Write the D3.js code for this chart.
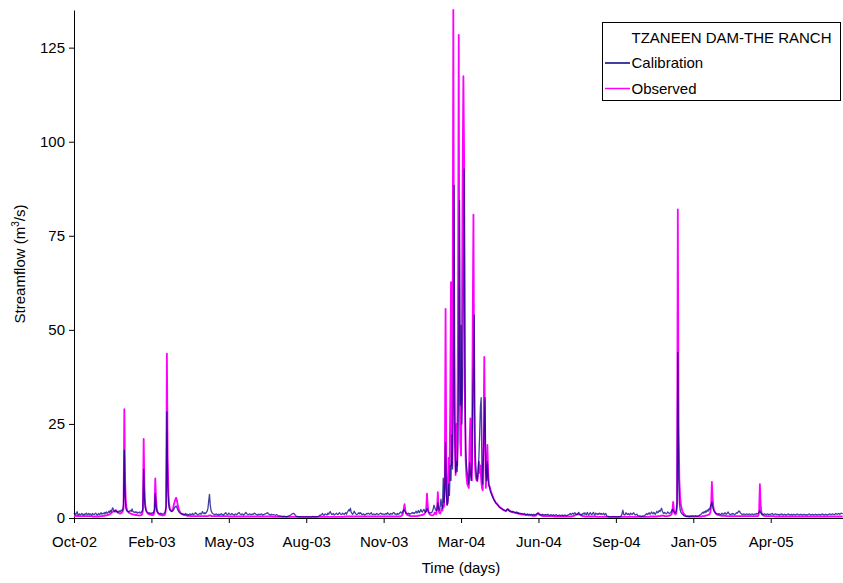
<!DOCTYPE html>
<html><head><meta charset="utf-8">
<script src="https://cdn.jsdelivr.net/npm/d3@7"></script>
<style>body{margin:0;background:#fff} svg text{font-family:Arial,"Liberation Sans",sans-serif}</style>
</head><body><svg id="c" width="843" height="583"></svg>
<script>
const startDate = "2002-10-25";
const tickStepDays = 100;
const tickLabels = ["Oct-02","Feb-03","May-03","Aug-03","Nov-03","Mar-04","Jun-04","Sep-04","Jan-05","Apr-05"];
const yTicks = [0,25,50,75,100,125];
const chartTitle = "TZANEEN DAM-THE RANCH";
const seriesNames = ["Calibration","Observed"];
const seriesColors = ["#000080","#FF00FF"];

// daily streamflow, m3/s, from startDate
const calibration = [
1.0,1.3,0.9,1.1,1.7,1.0,0.8,1.1,0.9,1.0,
1.2,0.9,1.0,0.8,1.1,1.0,1.3,0.9,1.0,1.2,
0.9,1.1,1.0,0.8,1.2,1.0,0.9,1.1,1.3,1.0,
0.8,1.0,1.2,0.9,1.1,1.4,1.0,1.2,1.3,1.1,
1.5,1.2,1.6,1.3,1.4,1.8,1.5,2.0,1.6,2.2,
2.7,2.2,1.8,1.6,2.0,1.7,1.5,1.8,1.6,1.9,
1.7,2.1,1.9,2.4,3.5,18.0,6.0,2.6,2.0,1.8,
1.7,1.6,1.9,2.0,1.8,2.4,1.8,1.6,1.5,1.7,
1.4,1.6,1.3,1.5,1.4,1.6,1.3,1.5,1.8,2.5,
12.9,5.0,2.8,2.1,1.7,1.5,1.3,1.4,1.2,1.3,
1.2,1.4,1.3,1.6,2.2,6.5,3.0,1.8,1.5,1.3,
1.2,1.1,1.3,1.2,1.0,1.1,1.2,1.4,1.8,3.0,
28.2,9.0,4.0,2.6,2.1,1.9,1.7,1.8,2.0,2.3,
2.8,3.0,3.2,2.8,2.2,1.8,1.5,1.3,1.2,1.1,
1.0,1.1,0.9,1.0,1.2,0.9,1.0,0.8,0.9,1.0,
1.1,0.9,1.0,1.2,0.9,1.0,1.1,1.4,1.2,1.0,
0.9,1.0,1.1,1.3,1.0,1.2,1.7,1.3,1.1,1.4,
1.2,1.5,1.8,2.5,4.5,6.3,3.5,2.0,1.5,1.2,
1.1,1.0,0.9,1.0,1.1,0.9,0.8,1.0,0.9,1.0,
1.0,1.1,0.9,0.8,1.0,1.2,1.4,1.1,0.9,1.0,
1.3,1.1,0.9,1.0,1.2,1.0,0.9,0.8,1.0,1.1,
0.9,1.0,1.3,1.5,1.2,1.0,0.9,1.1,1.0,0.8,
1.0,1.2,1.5,1.2,1.0,0.9,1.0,1.1,0.9,1.0,
0.9,1.1,1.0,1.3,1.2,1.0,0.9,0.8,1.0,0.9,
1.0,0.9,1.1,1.0,0.8,0.9,1.0,1.1,1.2,1.3,
1.4,1.1,1.0,0.9,0.8,1.0,0.9,0.8,0.9,0.8,
0.7,0.8,0.9,0.7,0.6,0.5,0.6,0.5,0.5,0.4,
0.4,0.4,0.5,0.4,0.3,0.4,0.4,0.5,0.6,0.7,
0.8,1.0,1.1,1.2,1.2,1.0,0.7,0.5,0.4,0.4,
0.3,0.3,0.4,0.3,0.3,0.3,0.3,0.3,0.3,0.3,
0.3,0.3,0.3,0.3,0.3,0.3,0.3,0.3,0.4,0.4,
0.3,0.3,0.4,0.3,0.3,0.4,0.5,0.6,0.8,0.7,
0.9,1.2,0.8,0.7,1.0,1.1,0.9,0.8,1.3,1.0,
1.4,1.7,1.2,0.9,1.0,1.2,0.8,0.9,1.1,1.3,
1.0,0.9,1.2,1.4,1.1,0.9,1.0,1.3,1.1,0.9,
1.2,1.4,1.0,1.5,1.8,2.2,1.9,2.6,1.6,1.2,
1.0,1.3,1.8,1.4,1.1,0.9,1.0,1.2,1.4,1.1,
1.4,1.2,0.9,1.0,1.1,0.8,0.9,1.0,1.2,1.1,
1.3,1.1,1.0,1.2,1.4,1.0,0.9,1.1,1.0,0.9,
1.0,1.2,1.1,0.9,1.0,1.1,1.3,1.2,1.0,1.1,
1.0,0.9,1.1,1.2,1.0,1.4,1.1,1.0,0.9,1.2,
1.1,1.0,1.3,1.5,1.2,1.0,1.1,0.9,1.2,1.0,
1.1,1.4,1.6,1.3,1.5,1.8,2.2,2.0,1.6,1.3,
1.2,1.1,1.3,1.0,1.2,1.1,1.3,1.5,1.2,1.4,
1.2,1.5,1.8,1.3,1.6,2.0,1.4,1.7,2.3,1.8,
1.6,2.0,2.3,1.8,1.5,1.7,2.5,2.0,1.6,1.4,
1.3,1.5,1.4,1.8,2.4,3.4,2.8,2.2,2.0,2.6,
4.0,2.5,2.0,3.0,5.0,3.2,2.6,10.6,4.0,8.0,
20.0,6.0,3.5,4.0,9.0,6.0,14.0,10.0,22.0,13.0,
30.0,88.4,25.0,12.0,15.0,12.3,20.0,40.0,84.4,30.0,
51.2,25.0,35.0,60.0,92.8,40.0,18.6,14.0,12.0,10.0,
9.0,14.7,12.0,10.0,14.0,30.0,40.0,53.9,20.0,14.0,
11.0,10.0,12.0,16.0,22.0,29.5,32.0,12.0,9.0,18.0,
25.0,32.0,12.0,10.0,15.0,10.0,8.5,8.0,7.0,6.5,
6.0,5.5,5.0,4.6,4.3,4.0,3.8,3.5,3.3,3.0,
2.8,2.7,2.5,2.4,2.3,2.2,2.1,2.0,1.9,2.2,
2.4,2.2,1.9,1.8,1.9,1.7,1.8,1.6,1.7,1.5,
1.5,1.4,1.6,1.3,1.4,1.2,1.3,1.2,1.1,1.2,
1.1,1.0,1.2,1.0,0.9,1.0,1.1,0.9,1.0,0.9,
0.9,1.0,0.8,0.9,1.0,0.8,0.9,1.0,1.1,1.3,
1.1,1.0,0.9,0.8,0.9,1.0,0.8,0.9,0.8,0.9,
0.8,0.9,1.0,0.8,0.7,0.8,0.9,0.8,0.7,0.8,
0.8,0.7,0.8,0.9,0.7,0.6,0.7,0.8,0.7,0.6,
0.7,0.8,0.6,0.7,0.8,0.7,0.6,0.7,0.8,0.9,
1.0,1.2,0.9,1.1,1.3,1.0,1.2,1.4,1.1,1.0,
0.9,1.2,1.5,1.1,0.9,1.0,0.8,1.1,1.3,1.0,
1.4,1.0,0.9,1.5,1.1,0.8,1.2,1.4,1.0,0.9,
1.2,1.5,1.0,0.8,1.3,1.1,0.9,1.2,1.0,1.3,
1.0,1.2,0.9,1.1,1.3,0.8,1.0,1.2,0.6,0.5,
0.4,0.4,0.3,0.3,0.3,0.3,0.3,0.4,0.3,0.3,
0.3,0.3,0.3,0.4,0.3,0.3,0.4,0.6,1.2,2.1,
1.0,0.8,0.9,1.4,1.1,0.9,1.2,1.0,0.8,1.3,
1.1,0.9,1.2,1.4,1.0,0.8,0.9,1.0,0.7,0.6,
0.5,0.6,0.5,0.4,0.5,0.6,0.5,0.6,0.8,1.0,
1.2,0.9,1.1,1.4,1.0,1.2,1.6,1.3,1.1,1.5,
1.2,1.0,1.4,1.8,1.4,1.6,2.0,1.7,2.2,2.6,
1.8,1.4,1.2,1.5,1.3,1.1,1.3,1.6,1.4,1.2,
1.3,1.5,1.8,2.3,2.0,1.6,1.4,1.5,1.9,4.0,
44.0,12.0,4.0,2.2,1.5,1.2,1.0,0.8,0.6,0.5,
0.5,0.4,0.4,0.5,0.4,0.4,0.5,0.4,0.5,0.6,
0.5,0.4,0.5,0.6,0.5,0.4,0.5,0.6,0.7,0.9,
1.0,1.2,1.5,1.3,1.7,1.4,1.9,1.6,2.1,1.8,
2.4,2.2,3.0,3.6,4.2,3.0,2.2,1.8,1.5,1.3,
1.2,1.1,1.0,1.2,1.1,0.9,1.0,1.3,1.1,1.0,
1.2,1.4,1.1,1.0,1.3,1.6,1.2,1.0,0.9,1.1,
1.0,1.2,1.1,0.9,1.0,1.2,1.4,1.3,1.6,1.9,
1.7,1.3,1.1,1.0,0.9,1.1,1.0,0.9,1.0,1.1,
1.0,0.9,1.1,1.0,0.9,1.0,1.1,1.0,0.9,1.0,
1.1,1.0,1.2,1.1,1.3,1.6,2.0,1.4,1.1,1.0,
1.0,0.9,1.1,1.0,0.9,1.0,1.1,0.9,1.0,0.9,
1.0,1.1,1.2,1.0,0.9,1.0,1.1,1.0,0.9,1.0,
0.9,0.8,1.0,0.9,1.1,1.0,0.8,0.9,1.0,0.9,
0.8,0.9,1.0,1.1,0.9,0.8,0.9,1.0,0.8,0.9,
1.0,0.9,0.8,0.9,1.1,1.0,0.9,0.8,0.9,1.0,
0.9,0.8,0.9,1.0,0.9,0.8,0.9,0.8,0.9,1.0,
1.1,0.9,0.8,0.9,1.0,0.9,0.8,0.9,1.0,0.9,
0.8,0.9,1.0,0.9,0.8,0.9,1.0,1.1,0.9,0.8,
0.9,1.0,0.9,0.8,0.9,1.0,1.1,1.0,0.9,1.0,
1.1,1.0,0.9,1.0,1.2,1.1,1.0,1.1,1.2,1.0,
1.1,1.3,1.2,1.1
];

const observed = [
0.6,0.6,0.6,0.5,0.6,0.5,0.5,0.5,0.5,0.5,
0.5,0.5,0.5,0.5,0.5,0.5,0.5,0.5,0.5,0.5,
0.5,0.5,0.5,0.5,0.4,0.4,0.4,0.4,0.4,0.4,
0.4,0.4,0.4,0.4,0.5,0.5,0.5,0.5,0.6,0.6,
0.6,0.7,0.7,0.8,0.8,0.9,1.0,1.1,1.3,1.5,
1.6,1.8,1.9,2.0,2.1,1.8,1.6,1.4,1.3,1.2,
1.2,1.3,1.5,1.8,2.5,28.9,10.0,4.0,2.5,1.9,
1.6,1.4,1.3,1.2,1.1,1.0,1.0,0.9,0.9,0.8,
0.8,0.8,0.7,0.7,0.7,0.7,0.7,0.8,1.0,2.0,
21.0,8.0,3.5,2.2,1.6,1.3,1.1,1.0,0.9,0.9,
0.8,0.8,0.8,1.0,2.0,10.5,5.0,2.5,1.6,1.2,
1.0,0.9,0.8,0.8,0.7,0.7,0.7,0.8,1.2,3.0,
43.7,16.0,6.5,3.5,2.4,2.0,1.8,2.0,2.6,3.5,
4.3,5.0,5.4,4.6,3.5,2.6,2.0,1.6,1.3,1.1,
1.0,0.9,0.8,0.8,0.7,0.7,0.6,0.6,0.6,0.6,
0.6,0.5,0.5,0.5,0.5,0.5,0.5,0.5,0.5,0.5,
0.5,0.5,0.5,0.5,0.5,0.5,0.5,0.5,0.5,0.5,
0.5,0.5,0.5,0.5,0.6,0.7,0.7,0.6,0.5,0.5,
0.5,0.5,0.5,0.5,0.5,0.5,0.5,0.5,0.5,0.5,
0.5,0.5,0.5,0.5,0.5,0.5,0.5,0.5,0.5,0.5,
0.4,0.4,0.4,0.4,0.4,0.4,0.4,0.4,0.4,0.4,
0.4,0.4,0.4,0.4,0.4,0.4,0.4,0.4,0.4,0.4,
0.4,0.4,0.4,0.4,0.4,0.4,0.4,0.4,0.4,0.4,
0.4,0.4,0.4,0.4,0.4,0.4,0.4,0.4,0.4,0.4,
0.4,0.4,0.4,0.4,0.4,0.4,0.4,0.4,0.4,0.4,
0.4,0.4,0.4,0.4,0.4,0.4,0.3,0.3,0.3,0.3,
0.3,0.3,0.3,0.3,0.3,0.3,0.3,0.3,0.3,0.3,
0.3,0.3,0.3,0.3,0.3,0.3,0.3,0.3,0.3,0.3,
0.3,0.3,0.3,0.3,0.3,0.3,0.3,0.3,0.3,0.3,
0.3,0.3,0.3,0.3,0.3,0.3,0.3,0.3,0.3,0.3,
0.3,0.3,0.3,0.3,0.3,0.3,0.3,0.3,0.3,0.3,
0.3,0.3,0.3,0.3,0.3,0.3,0.3,0.3,0.3,0.3,
0.3,0.3,0.3,0.3,0.3,0.3,0.3,0.3,0.3,0.3,
0.3,0.3,0.3,0.3,0.3,0.3,0.3,0.3,0.3,0.3,
0.3,0.3,0.3,0.3,0.3,0.3,0.3,0.3,0.3,0.3,
0.4,0.4,0.4,0.4,0.4,0.4,0.4,0.4,0.4,0.4,
0.4,0.4,0.4,0.4,0.4,0.4,0.4,0.4,0.4,0.4,
0.4,0.4,0.4,0.4,0.4,0.4,0.4,0.4,0.4,0.4,
0.4,0.4,0.4,0.4,0.4,0.4,0.4,0.4,0.4,0.4,
0.4,0.4,0.4,0.4,0.4,0.4,0.4,0.4,0.4,0.4,
0.4,0.4,0.4,0.4,0.4,0.4,0.4,0.4,0.4,0.4,
0.4,0.4,0.4,0.4,0.4,0.4,0.4,0.4,0.4,0.4,
0.4,0.4,0.5,0.6,0.8,1.2,2.5,3.7,2.0,1.2,
0.9,0.8,0.7,0.6,0.6,0.5,0.5,0.5,0.5,0.5,
0.5,0.5,0.5,0.5,0.6,0.6,0.6,0.7,0.7,0.8,
0.8,0.9,1.0,1.2,1.5,2.5,6.5,3.0,1.6,1.1,
0.9,0.8,0.7,0.7,0.8,1.0,1.5,1.2,1.0,2.5,
6.9,2.0,1.3,1.2,1.8,2.5,2.0,3.5,3.0,10.0,
55.6,12.0,3.5,5.0,16.0,10.0,30.0,62.7,14.0,40.0,
135.0,45.0,20.0,11.4,25.0,14.0,50.0,128.4,40.0,20.0,
16.6,45.0,90.0,117.4,95.0,30.0,15.0,11.0,9.0,8.5,
8.0,20.0,26.5,12.0,10.0,50.0,80.6,30.0,14.0,11.0,
10.0,9.8,12.0,15.0,12.0,14.0,10.0,8.0,7.4,22.0,
42.8,20.0,8.0,12.0,19.4,12.0,9.0,8.3,7.5,6.8,
6.2,5.7,5.2,4.8,4.4,4.0,3.9,3.6,3.3,3.1,
2.9,2.7,2.6,2.4,2.2,2.1,2.0,1.9,1.8,2.0,
2.3,2.3,2.0,1.8,1.7,1.6,1.6,1.5,1.5,1.4,
1.4,1.3,1.3,1.2,1.2,1.1,1.1,1.0,1.0,1.0,
0.9,0.9,0.9,0.8,0.8,0.8,0.8,0.7,0.7,0.7,
0.7,0.7,0.6,0.6,0.6,0.6,0.6,0.7,0.9,1.2,
1.3,1.0,0.8,0.7,0.6,0.6,0.5,0.5,0.5,0.5,
0.5,0.5,0.5,0.5,0.5,0.5,0.5,0.5,0.5,0.5,
0.4,0.4,0.4,0.4,0.4,0.4,0.4,0.4,0.4,0.4,
0.4,0.4,0.4,0.4,0.4,0.4,0.4,0.4,0.4,0.4,
0.4,0.4,0.4,0.4,0.5,0.5,0.6,0.7,0.8,0.9,
1.0,1.0,1.0,0.9,0.8,0.7,0.6,0.5,0.5,0.5,
0.4,0.4,0.4,0.4,0.4,0.4,0.4,0.4,0.4,0.4,
0.4,0.4,0.4,0.4,0.4,0.3,0.3,0.3,0.3,0.3,
0.3,0.3,0.3,0.3,0.3,0.3,0.3,0.3,0.3,0.3,
0.3,0.3,0.3,0.3,0.3,0.3,0.3,0.3,0.3,0.3,
0.3,0.3,0.3,0.3,0.3,0.3,0.3,0.3,0.3,0.3,
0.3,0.3,0.3,0.3,0.3,0.3,0.3,0.3,0.3,0.3,
0.3,0.3,0.3,0.3,0.3,0.3,0.3,0.3,0.3,0.3,
0.3,0.3,0.3,0.3,0.3,0.3,0.3,0.3,0.3,0.3,
0.3,0.3,0.3,0.3,0.4,0.4,0.4,0.4,0.4,0.4,
0.4,0.4,0.4,0.4,0.5,0.5,0.5,0.5,0.6,0.6,
0.6,0.6,0.6,0.5,0.5,0.5,0.5,0.5,0.6,0.6,
0.7,0.8,1.0,2.0,4.3,2.0,1.2,1.0,1.2,3.0,
82.0,25.0,10.0,5.5,3.5,2.5,1.8,1.3,1.0,0.8,
0.6,0.5,0.5,0.4,0.4,0.4,0.4,0.4,0.4,0.4,
0.4,0.4,0.4,0.4,0.4,0.4,0.4,0.4,0.4,0.4,
0.4,0.4,0.5,0.5,0.5,0.6,0.6,0.7,0.7,0.8,
0.9,1.0,1.5,3.0,9.6,5.0,2.8,2.0,1.5,1.2,
1.0,0.9,0.8,0.8,0.7,0.7,0.6,0.6,0.6,0.6,
0.6,0.6,0.6,0.5,0.5,0.5,0.5,0.5,0.5,0.5,
0.5,0.5,0.5,0.5,0.5,0.5,0.5,0.5,0.5,0.5,
0.5,0.5,0.5,0.5,0.5,0.5,0.5,0.5,0.5,0.5,
0.5,0.5,0.5,0.5,0.5,0.5,0.5,0.5,0.5,0.5,
0.5,0.5,0.5,0.5,0.6,1.5,9.0,3.5,1.5,0.9,
0.7,0.6,0.6,0.5,0.5,0.5,0.5,0.5,0.5,0.5,
0.5,0.5,0.5,0.5,0.5,0.4,0.4,0.4,0.4,0.4,
0.4,0.4,0.4,0.4,0.4,0.4,0.4,0.4,0.4,0.4,
0.4,0.4,0.4,0.4,0.4,0.4,0.4,0.4,0.4,0.4,
0.4,0.4,0.4,0.4,0.4,0.4,0.4,0.4,0.4,0.4,
0.4,0.4,0.4,0.4,0.4,0.4,0.4,0.4,0.4,0.4,
0.4,0.4,0.4,0.4,0.4,0.4,0.4,0.4,0.4,0.4,
0.4,0.4,0.4,0.4,0.4,0.4,0.4,0.4,0.4,0.4,
0.4,0.4,0.4,0.4,0.4,0.4,0.4,0.4,0.4,0.4,
0.4,0.4,0.4,0.4,0.4,0.4,0.4,0.4,0.4,0.4,
0.4,0.4,0.4,0.4
];

const svg = d3.select("#c");
const FONT = 15;
const t0 = d3.utcParse("%Y-%m-%d")(startDate);
const dayAt = i => d3.utcDay.offset(t0, i);
const nLast = calibration.length - 1;

const x = d3.scaleUtc().domain([t0, dayAt(nLast)]).range([74, 842.7]);
const y = d3.scaleLinear().domain([0, 135]).range([518, 10]);

// axes
const xAxis = d3.axisBottom(x)
  .tickValues(tickLabels.map((_, i) => dayAt(i * tickStepDays)))
  .tickFormat((d, i) => tickLabels[i])
  .tickSize(5).tickSizeOuter(0).tickPadding(13);
const gx = svg.append("g").attr("transform", "translate(0,518)").call(xAxis);
gx.selectAll("text").attr("font-size", FONT).attr("fill", "#000")
  .attr("font-family", "Arial, 'Liberation Sans', sans-serif");
gx.selectAll("path,line").attr("stroke", "#000");

const yAxis = d3.axisLeft(y).tickValues(yTicks).tickSize(5).tickSizeOuter(0).tickPadding(4);
const gy = svg.append("g").attr("transform", "translate(74,0)").call(yAxis);
gy.selectAll("text").attr("font-size", FONT).attr("fill", "#000")
  .attr("font-family", "Arial, 'Liberation Sans', sans-serif");
gy.selectAll("path,line").attr("stroke", "#000");

// series: observed underneath, calibration on top (blends to purple inside peaks)
const line = d3.line().x((d, i) => x(dayAt(i))).y(d => y(d));
svg.append("path").datum(observed)
  .attr("fill", "none").attr("stroke", seriesColors[1])
  .attr("stroke-width", 1.8).attr("stroke-linejoin", "round").attr("d", line);
svg.append("path").datum(calibration)
  .attr("fill", "none").attr("stroke", seriesColors[0])
  .attr("stroke-width", 1.3).attr("stroke-opacity", 0.75)
  .attr("stroke-linejoin", "round").attr("d", line);

// axis titles
svg.append("text").attr("x", 461).attr("y", 573).attr("text-anchor", "middle")
  .attr("font-size", FONT).text("Time (days)");
const yl = svg.append("text").attr("transform", "translate(25,264) rotate(-90)")
  .attr("text-anchor", "middle").attr("font-size", FONT);
yl.append("tspan").text("Streamflow (m");
yl.append("tspan").attr("font-size", 10).attr("dy", -6).text("3");
yl.append("tspan").attr("dy", 6).text("/s)");

// legend
const lg = svg.append("g");
lg.append("rect").attr("x", 602.5).attr("y", 22.5).attr("width", 238).attr("height", 78)
  .attr("fill", "#fff").attr("stroke", "#000").attr("stroke-width", 1);
lg.append("text").attr("x", 631.5).attr("y", 42.5).attr("font-size", FONT).text(chartTitle);
seriesNames.forEach((n, k) => {
  const yy = 63 + k * 25.5;
  lg.append("line").attr("x1", 605).attr("x2", 630).attr("y1", yy).attr("y2", yy)
    .attr("stroke", seriesColors[k]).attr("stroke-width", 1.5);
  lg.append("text").attr("x", 631.5).attr("y", yy + 5.3).attr("font-size", FONT).text(n);
});
</script></body></html>
